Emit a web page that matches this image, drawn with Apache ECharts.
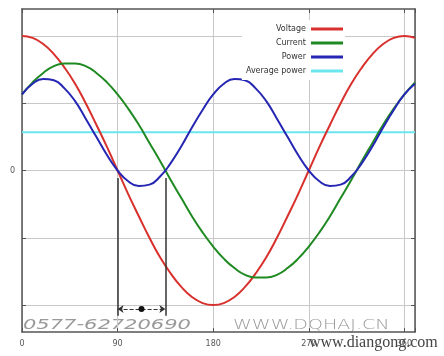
<!DOCTYPE html>
<html>
<head>
<meta charset="utf-8">
<script src="https://cdn.jsdelivr.net/npm/echarts@6/dist/echarts.min.js"></script>
<style>
  html, body { margin: 0; padding: 0; background: #fff; }
  #chart { width: 444px; height: 356px; }
</style>
</head>
<body>
<div id="chart"></div>
<script>
// phase angle in degrees
const angles = [0, 10, 20, 30, 40, 50, 60, 70, 80, 90, 100, 110, 120, 130, 140, 150, 160, 170, 180,
  190, 200, 210, 220, 230, 240, 250, 260, 270, 280, 290, 300, 310, 320, 330, 340, 350, 360, 370];

const voltage = [2, 1.97, 1.88, 1.73, 1.53, 1.29, 1, 0.68, 0.35, 0, -0.35, -0.68, -1, -1.29, -1.53, -1.73, -1.88, -1.97, -2,
  -1.97, -1.88, -1.73, -1.53, -1.29, -1, -0.68, -0.35, 0, 0.35, 0.68, 1, 1.29, 1.53, 1.73, 1.88, 1.97, 2, 1.97];

const current = [1.13, 1.31, 1.45, 1.55, 1.59, 1.59, 1.55, 1.45, 1.31, 1.13, 0.92, 0.68, 0.41, 0.14, -0.14, -0.41, -0.68, -0.92, -1.13,
  -1.31, -1.45, -1.55, -1.59, -1.59, -1.55, -1.45, -1.31, -1.13, -0.92, -0.68, -0.41, -0.14, 0.14, 0.41, 0.68, 0.92, 1.13, 1.31];

const power = [1.13, 1.29, 1.36, 1.34, 1.22, 1.03, 0.77, 0.5, 0.23, 0, -0.16, -0.23, -0.21, -0.09, 0.11, 0.36, 0.64, 0.9, 1.13,
  1.29, 1.36, 1.34, 1.22, 1.03, 0.77, 0.5, 0.23, 0, -0.16, -0.23, -0.21, -0.09, 0.11, 0.36, 0.64, 0.9, 1.13, 1.29];

const averagePower = 0.57;
const xTicks = [0, 90, 180, 270, 360];
const yTicks = [-2, -1, 0, 1, 2];
const phaseMarks = [90, 135]; // voltage / current zero crossings

const pairs = arr => angles.map((a, i) => [a, arr[i]]);

const chart = echarts.init(document.getElementById('chart'));

const axisLine = { show: true, onZero: false, lineStyle: { color: '#555', width: 1.5 } };
const tick = { show: true, inside: true, length: 4, lineStyle: { color: '#555' } };

chart.setOption({
  animation: false,
  backgroundColor: '#fff',
  textStyle: { fontFamily: 'DejaVu Sans' },
  grid: { left: 22, right: 29, top: 9, bottom: 24 },
  legend: {
    orient: 'vertical',
    right: 99,
    top: 20,
    align: 'right',
    icon: 'rect',
    itemWidth: 32,
    itemHeight: 3,
    itemGap: 4,
    padding: [4, 2, 4, 4],
    backgroundColor: '#fff',
    textStyle: { fontSize: 8, color: '#333', lineHeight: 10 },
    data: ['Voltage', 'Current', 'Power', 'Average power']
  },
  xAxis: [{
    type: 'value', min: 0, max: 370, interval: 90,
    axisLine: axisLine,
    axisTick: tick,
    axisLabel: {
      fontSize: 8, color: '#555', margin: 8,
      formatter: v => (xTicks.indexOf(v) >= 0 ? String(v) : '')
    },
    splitLine: { show: true, lineStyle: { color: '#c8c8c8' } }
  }, {
    type: 'value', position: 'top', min: 0, max: 370, interval: 90,
    axisLine: axisLine, axisTick: tick, axisLabel: { show: false }, splitLine: { show: false }
  }],
  yAxis: [{
    type: 'value', min: -2.4, max: 2.4,
    axisLine: axisLine,
    axisTick: Object.assign({}, tick, { customValues: yTicks }),
    axisLabel: { fontSize: 8, color: '#555', margin: 7, customValues: [0] },
    splitLine: { show: true, lineStyle: { color: '#c8c8c8' } }
  }, {
    type: 'value', position: 'right', min: -2.4, max: 2.4,
    axisLine: axisLine,
    axisTick: Object.assign({}, tick, { customValues: yTicks }),
    axisLabel: { show: false }, splitLine: { show: false }
  }],
  series: [
    {
      name: 'Average power', type: 'line', showSymbol: false,
      data: [[0, averagePower], [370, averagePower]],
      itemStyle: { color: '#6be6ef' },
      lineStyle: { color: '#6be6ef', width: 2 }
    },
    {
      name: 'Voltage', type: 'line', smooth: true, showSymbol: false,
      data: pairs(voltage),
      itemStyle: { color: '#d8302c' },
      lineStyle: { color: '#d8302c', width: 2 },
      markLine: {
        silent: true,
        symbol: 'none',
        label: { show: false },
        lineStyle: { color: '#333', width: 1.5, type: 'solid' },
        data: [
          [{ coord: [phaseMarks[0], -0.11] }, { coord: [phaseMarks[0], -2.16] }],
          [{ coord: [phaseMarks[1], -0.11] }, { coord: [phaseMarks[1], -2.16] }],
          [{ coord: [phaseMarks[0], -2.06], symbol: 'arrow', symbolSize: 6 },
           { coord: [phaseMarks[1], -2.06], symbol: 'arrow', symbolSize: 6, lineStyle: { type: 'dashed', width: 1 } }]
        ]
      },
      markPoint: {
        silent: true,
        symbol: 'circle',
        symbolSize: 6,
        label: { show: false },
        itemStyle: { color: '#111' },
        data: [{ coord: [(phaseMarks[0] + phaseMarks[1]) / 2, -2.06] }]
      }
    },
    {
      name: 'Current', type: 'line', smooth: true, showSymbol: false,
      data: pairs(current),
      itemStyle: { color: '#1f8a22' },
      lineStyle: { color: '#1f8a22', width: 2 }
    },
    {
      name: 'Power', type: 'line', smooth: true, showSymbol: false,
      data: pairs(power),
      itemStyle: { color: '#2626b4' },
      lineStyle: { color: '#2626b4', width: 2 }
    }
  ],
  graphic: [
    {
      type: 'text', left: 23, top: 318, scaleX: 1.5, silent: true,
      style: { text: '0577-62720690', font: 'italic 300 14px "DejaVu Sans"', fill: '#9a9a9a' }
    },
    {
      type: 'text', left: 233, top: 318, scaleX: 1.36, silent: true,
      style: { text: 'WWW.DQHAJ.CN', font: '300 14px "DejaVu Sans"', fill: '#9a9a9a' }
    },
    {
      type: 'text', left: 309, top: 335, silent: true,
      style: { text: 'www.diangong.com', font: '16px "Liberation Serif"', fill: '#444' }
    }
  ]
});
</script>
</body>
</html>
